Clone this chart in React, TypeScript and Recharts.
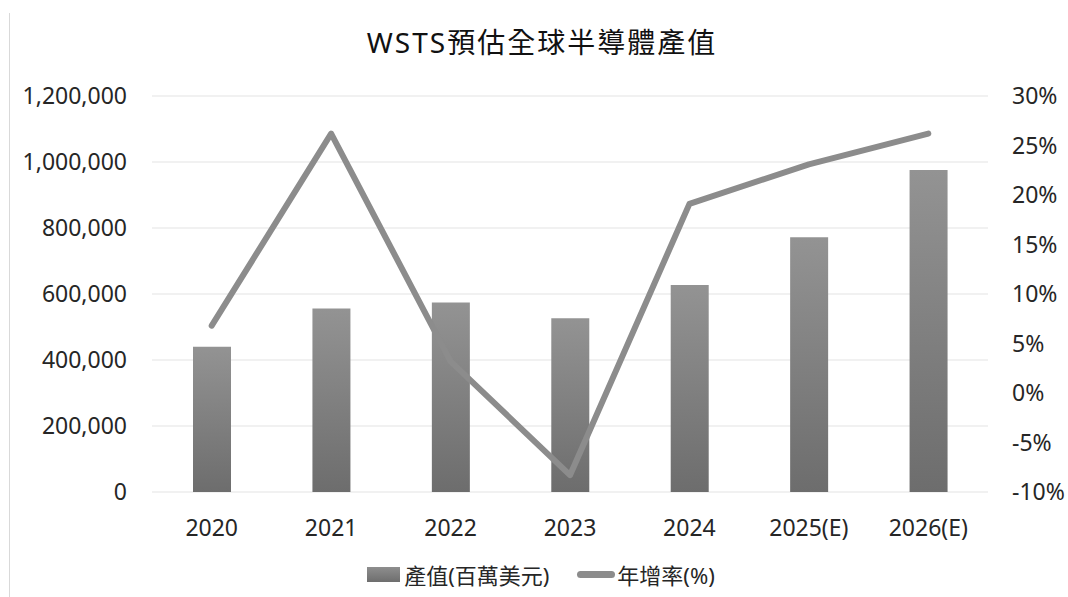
import React from "react";
import {
  ComposedChart,
  Bar,
  Line,
  XAxis,
  YAxis,
  CartesianGrid,
  Legend,
} from "recharts";

// WSTS 全球半導體產值 (百萬美元) 與年增率
const years = ["2020", "2021", "2022", "2023", "2024", "2025(E)", "2026(E)"];
const revenue = [440389, 555893, 574084, 526885, 627556, 772243, 975460];
const growth = [6.8, 26.2, 3.2, -8.3, 19.1, 23.1, 26.2];

const leftTicks = [0, 200000, 400000, 600000, 800000, 1000000, 1200000];
const rightTicks = [-10, -5, 0, 5, 10, 15, 20, 25, 30];

const FONT = '"Noto Sans", "Noto Sans CJK TC", sans-serif';
const TEXT = "#262626";

const data = years.map((y, i) => ({ year: y, rev: revenue[i], yoy: growth[i] }));

function ChartLegend() {
  return (
    <div
      style={{
        height: 30,
        display: "flex",
        justifyContent: "center",
        alignItems: "center",
        fontFamily: FONT,
        fontSize: 22,
        color: TEXT,
        paddingLeft: 14,
      }}
    >
      <span
        style={{
          display: "inline-block",
          width: 33,
          height: 15,
          background: "linear-gradient(#8e8e8e, #6e6e6e)",
          marginRight: 4,
        }}
      />
      <span>產值(百萬美元)</span>
      <span
        style={{
          display: "inline-block",
          width: 38,
          height: 7,
          borderRadius: 4,
          background: "#8c8c8c",
          marginLeft: 28,
          marginRight: 2,
        }}
      />
      <span>年增率(%)</span>
    </div>
  );
}

export default function App() {
  return (
    <div
      style={{
        position: "absolute",
        left: 0,
        top: 0,
        width: 1068,
        height: 597,
        background: "#fff",
        overflow: "hidden",
      }}
    >
      <div
        style={{
          position: "absolute",
          left: 9,
          top: 13,
          width: 1,
          height: 600,
          background: "#d9d9d9",
        }}
      />
      <div
        style={{
          position: "absolute",
          top: 24,
          left: 8,
          width: 1068,
          textAlign: "center",
          fontFamily: FONT,
          fontSize: 28,
          fontWeight: 400,
          letterSpacing: 2,
          color: "#111",
          lineHeight: "36px",
        }}
      >
        WSTS預估全球半導體產值
      </div>
      <ComposedChart
        width={1068}
        height={597}
        data={data}
        margin={{ top: 96, right: 0, bottom: 8, left: 0 }}
        style={{ position: "absolute", left: 0, top: 0 }}
      >
        <defs>
          <linearGradient id="barFill" x1="0" y1="0" x2="0" y2="1">
            <stop offset="0%" stopColor="#939393" />
            <stop offset="100%" stopColor="#6d6d6d" />
          </linearGradient>
        </defs>
        <CartesianGrid yAxisId="left" vertical={false} stroke="#e3e3e3" strokeWidth={1} />
        <XAxis
          dataKey="year"
          axisLine={false}
          tickLine={false}
          tickSize={0}
          tickMargin={28}
          height={67}
          interval={0}
          tick={{ fill: TEXT, fontSize: 23, fontFamily: FONT }}
        />
        <YAxis
          yAxisId="left"
          orientation="left"
          width={152}
          domain={[0, 1200000]}
          ticks={leftTicks}
          axisLine={false}
          tickLine={false}
          tickSize={0}
          tickMargin={25}
          tickFormatter={(v: number) => v.toLocaleString("en-US")}
          tick={{ fill: TEXT, fontSize: 23, fontFamily: FONT }}
        />
        <YAxis
          yAxisId="right"
          orientation="right"
          width={80}
          domain={[-10, 30]}
          ticks={rightTicks}
          axisLine={false}
          tickLine={false}
          tickSize={0}
          tickMargin={24}
          tickFormatter={(v: number) => `${v}%`}
          tick={{ fill: TEXT, fontSize: 23, fontFamily: FONT }}
        />
        <Legend verticalAlign="bottom" content={() => <ChartLegend />} />
        <Bar
          yAxisId="left"
          dataKey="rev"
          name="產值(百萬美元)"
          fill="url(#barFill)"
          barSize={38}
          isAnimationActive={false}
        />
        <Line
          yAxisId="right"
          dataKey="yoy"
          name="年增率(%)"
          type="linear"
          stroke="#8c8c8c"
          strokeWidth={6}
          strokeLinecap="round"
          strokeLinejoin="round"
          dot={false}
          activeDot={false}
          isAnimationActive={false}
        />
      </ComposedChart>
    </div>
  );
}
